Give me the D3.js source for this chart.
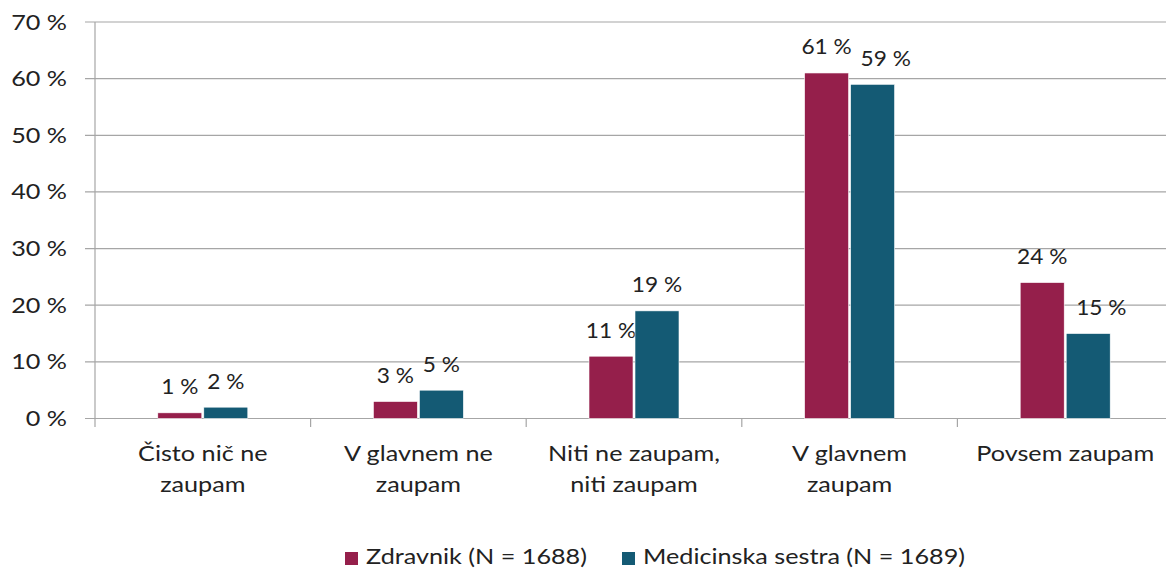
<!DOCTYPE html>
<html><head><meta charset="utf-8">
<script src="https://cdn.jsdelivr.net/npm/d3@7"></script>
<style>body{margin:0;background:#fff}svg{display:block;font-family:Lato,"Open Sans",sans-serif}</style>
</head><body><svg id="c" width="1166" height="570"></svg>
<script>
const categories = [["Čisto nič ne","zaupam"],["V glavnem ne","zaupam"],["Niti ne zaupam,","niti zaupam"],["V glavnem","zaupam"],["Povsem zaupam"]];
const seriesNames = ["Zdravnik (N = 1688)","Medicinska sestra (N = 1689)"];
const zdravnik = [1,3,11,61,24];
const sestra = [2,5,19,59,15];
const yTicks = [0,10,20,30,40,50,60,70];
const colors = ["#951F4B","#145A74"];

const FS = 21, SX = 1.2, SXL = 1.08;
const svg = d3.select("#c");
const x0 = d3.scaleBand().domain(d3.range(categories.length)).range([95,1173]).paddingInner(0).paddingOuter(0);
const y = d3.scaleLinear().domain([0,70]).range([418.5,22]);
const bw = 44, gap = 2;

function stretched(sel, fx, fy){
  return sel.attr("transform",(d,i)=>`translate(${fx(d,i)},${fy(d,i)}) scale(${SX},1)`)
    .attr("font-size",FS).attr("fill","#222");
}

svg.append("g").selectAll("line").data(yTicks).join("line")
  .attr("x1",85).attr("x2",1166).attr("y1",d=>y(d)).attr("y2",d=>y(d))
  .attr("stroke","#a6a6a6").attr("stroke-width",1.2);
svg.append("line").attr("x1",95).attr("x2",95).attr("y1",y(70)).attr("y2",427).attr("stroke","#a6a6a6").attr("stroke-width",1.2);
svg.append("g").selectAll("line").data(d3.range(1,categories.length)).join("line")
  .attr("x1",d=>x0(d)).attr("x2",d=>x0(d)).attr("y1",y(0)).attr("y2",427)
  .attr("stroke","#a6a6a6").attr("stroke-width",1.2);
stretched(svg.append("g").selectAll("text").data(yTicks).join("text"), ()=>67, d=>y(d))
  .attr("dy","0.36em").attr("text-anchor","end").text(d=>d+" %");

const bx = (si,i) => x0(i)+x0.bandwidth()/2 + (si===0 ? -gap/2-bw : gap/2);
const series = [zdravnik, sestra];
series.forEach((vals,si)=>{
  const g = svg.append("g");
  g.selectAll("rect").data(vals).join("rect")
    .attr("x",(d,i)=>bx(si,i)).attr("width",bw)
    .attr("y",d=>y(d)).attr("height",d=>y(0)-y(d))
    .attr("fill",colors[si]).attr("stroke","#fff").attr("stroke-width",0.6);
  const lab = g.selectAll("text").data(vals).join("text")
    .attr("font-size",FS).attr("fill","#222").attr("text-anchor","middle").text(d=>d+" %");
  lab.each(function(d,i){
    let cx = bx(si,i)+bw/2;
    const ly = y(d)-18.5;
    if(si===1){
      const w = this.getComputedTextLength()*SXL;
      const redRight = bx(0,i)+bw, redTop = y(zdravnik[i]);
      if(cx - w/2 < redRight + 2 && ly + 10 > redTop){
        cx = redRight + 12 + w/2;
      }
    }
    d3.select(this).attr("transform",`translate(${cx},${ly}) scale(${SXL},1)`);
  });
});

const cl = stretched(svg.append("g").selectAll("text").data(categories).join("text"),
  (d,i)=>x0(i)+x0.bandwidth()/2, ()=>461).attr("text-anchor","middle");
cl.selectAll("tspan").data(d=>d).join("tspan")
  .attr("x",0).attr("dy",(d,i)=>i===0?0:31).text(d=>d);

const leg = [{x:345,tx:366},{x:622,tx:643}];
seriesNames.forEach((n,i)=>{
  svg.append("rect").attr("x",leg[i].x).attr("y",552).attr("width",13).attr("height",13).attr("fill",colors[i]);
  svg.append("text").attr("transform",`translate(${leg[i].tx},564) scale(${SX},1)`)
    .attr("font-size",FS).attr("fill","#222").text(n);
});
</script></body></html>
